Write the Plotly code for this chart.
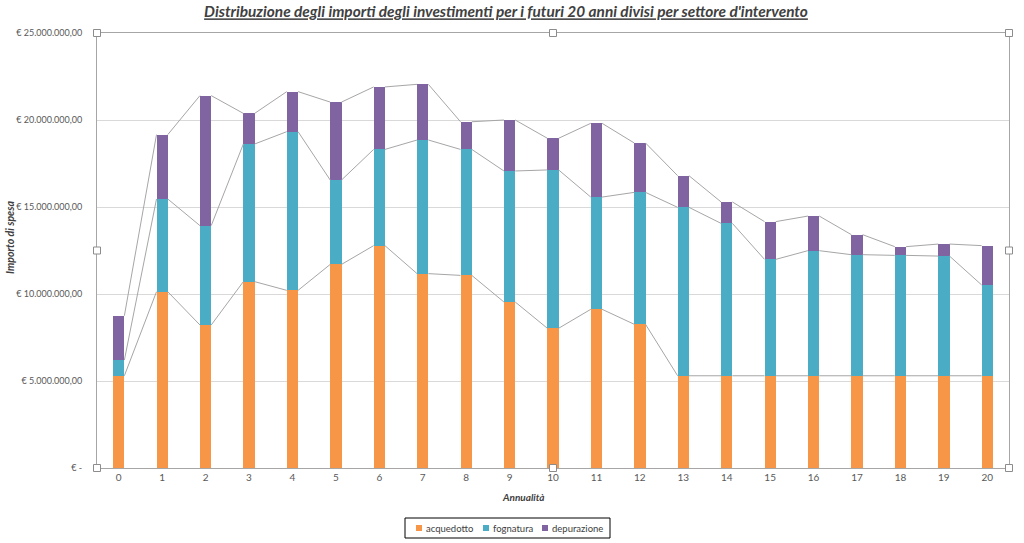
import plotly.graph_objects as go

anni = list(range(21))
acquedotto = [5.30, 10.13, 8.22, 10.71, 10.21, 11.70, 12.78, 11.17, 11.07, 9.54, 8.03,
              9.12, 8.26, 5.30, 5.30, 5.30, 5.30, 5.30, 5.30, 5.30, 5.30]
fognatura = [0.90, 5.33, 5.71, 7.91, 9.12, 4.85, 5.53, 7.68, 7.24, 7.53, 9.10,
             6.45, 7.58, 9.68, 8.76, 6.69, 7.19, 6.96, 6.92, 6.88, 5.22]
depurazione = [2.55, 3.70, 7.47, 1.76, 2.30, 4.48, 3.59, 3.20, 1.59, 2.93, 1.82,
               4.24, 2.84, 1.82, 1.23, 2.17, 1.99, 1.15, 0.50, 0.69, 2.26]
scale = 1e6
y_tickvals = [0, 5e6, 10e6, 15e6, 20e6, 25e6]
y_ticktext = ["€ -", "€ 5.000.000,00", "€ 10.000.000,00", "€ 15.000.000,00",
              "€ 20.000.000,00", "€ 25.000.000,00"]

series = [("acquedotto", acquedotto, "#F79646"),
          ("fognatura", fognatura, "#4BACC6"),
          ("depurazione", depurazione, "#8064A2")]

BW = 0.26
FONT = "Lato"
W, H = 1024, 543
ML, MR, MT, MB = 97, 15, 33, 75
PW, PH = W - ML - MR, H - MT - MB


def px(x):
    return (x - ML) / PW


def py(y):
    return (H - MB - y) / PH


fig = go.Figure()

for name, vals, col in series:
    fig.add_trace(go.Bar(x=anni, y=[v * scale for v in vals], name=name,
                         marker=dict(color=col, line=dict(width=0)), width=BW,
                         showlegend=False))

# series lines (connect segment tops between adjacent bars)
cum = [0.0] * len(anni)
for name, vals, col in series:
    cum = [c + v * scale for c, v in zip(cum, vals)]
    xs, ys = [], []
    for i in range(len(anni) - 1):
        xs += [anni[i] + BW / 2, anni[i + 1] - BW / 2, None]
        ys += [cum[i], cum[i + 1], None]
    fig.add_trace(go.Scatter(x=xs, y=ys, mode="lines", showlegend=False,
                             hoverinfo="skip", line=dict(color="#A6A6A6", width=1)))

# selection handles
shapes = []
for (hx, hy) in [(0, 1), (0.5, 1), (1, 1), (0, 0.5), (1, 0.5), (0, 0), (0.5, 0), (1, 0)]:
    shapes.append(dict(type="rect", xref="paper", yref="paper", xsizemode="pixel",
                       ysizemode="pixel", xanchor=hx, yanchor=hy, x0=-3.5, x1=3.5,
                       y0=-3.5, y1=3.5, line=dict(color="#8C8C8C", width=1),
                       fillcolor="white", layer="above"))

# legend (custom, Excel-like)
shapes.append(dict(type="rect", xref="paper", yref="paper", x0=px(405), x1=px(610),
                   y0=py(538), y1=py(518), line=dict(color="black", width=1),
                   fillcolor="white", layer="above"))
annotations = []
leg_sym_x = [419, 486, 545]
leg_txt_x = [424, 491, 550]
for (name, vals, col), sx, tx in zip(series, leg_sym_x, leg_txt_x):
    shapes.append(dict(type="rect", xref="paper", yref="paper", xsizemode="pixel",
                       ysizemode="pixel", xanchor=px(sx), yanchor=py(528),
                       x0=-3, x1=3, y0=-3, y1=3, line=dict(width=0),
                       fillcolor=col, layer="above"))
    annotations.append(dict(text=name, xref="paper", yref="paper", x=px(tx),
                            y=py(528), xanchor="left", yanchor="middle",
                            showarrow=False,
                            font=dict(size=9.5, color="#404040", family=FONT)))

annotations += [
    dict(text="<b><i>Annualità</i></b>", xref="paper", yref="paper",
         x=px(523), y=py(497), xanchor="center", yanchor="middle", showarrow=False,
         font=dict(size=10, color="#404040", family=FONT)),
    dict(text="<b><i>Importo di spesa</i></b>", xref="paper", yref="paper",
         x=px(10), y=py(238), textangle=-90, xanchor="center",
         yanchor="middle", showarrow=False,
         font=dict(size=10.5, color="#404040", family=FONT)),
]

fig.update_layout(
    width=W, height=H,
    margin=dict(l=ML, r=MR, t=MT, b=MB),
    paper_bgcolor="white", plot_bgcolor="white",
    barmode="stack",
    font=dict(family=FONT, size=10, color="#595959"),
    shapes=shapes,
    showlegend=False,
    title=dict(text="<b><i><u>Distribuzione degli importi degli investimenti per i futuri 20 anni divisi per settore d'intervento</u></i></b>",
               xref="container", yref="container", x=506 / W, y=1 - 12 / H,
               xanchor="center", yanchor="middle",
               font=dict(size=15.4, color="#404040", family=FONT)),
    xaxis=dict(range=[-0.5, 20.5], tickmode="array", tickvals=anni,
               ticktext=[str(a) for a in anni], showgrid=False,
               showline=True, linecolor="#A6A6A6", linewidth=1, mirror=True,
               ticks="", zeroline=False, tickfont=dict(size=10, color="#595959")),
    yaxis=dict(range=[0, 25e6], tickmode="array", tickvals=y_tickvals,
               ticktext=y_ticktext, showgrid=True, gridcolor="#D9D9D9",
               showline=True, linecolor="#A6A6A6", linewidth=1, mirror=True,
               zeroline=False, ticks="", ticklabelstandoff=12,
               tickfont=dict(size=9, color="#595959")),
    annotations=annotations,
)

fig.write_html("out.html")
